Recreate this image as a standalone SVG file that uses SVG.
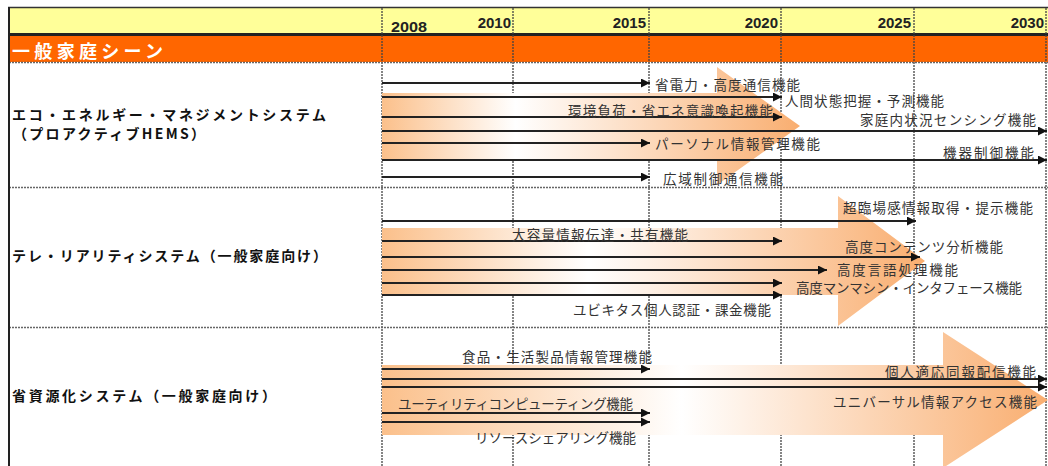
<svg xmlns="http://www.w3.org/2000/svg" width="1048" height="466" viewBox="0 0 1048 466">
<style>
.grid{stroke:#444;stroke-width:1.3;stroke-dasharray:2 1;fill:none}
.hsep{stroke:#666;stroke-width:1.3;stroke-dasharray:2 1;fill:none}
.yr{font-family:"Liberation Sans",Arial,sans-serif;font-weight:bold;font-size:15px;fill:#222}
.lbl{font-family:"Noto Sans CJK JP","Noto Sans",sans-serif;font-size:13.5px;fill:#333}
.sys{font-family:"Noto Sans CJK JP","Liberation Sans",sans-serif;font-size:14px;font-weight:bold;fill:#111}
.arr{stroke:#222;stroke-width:2;fill:none;marker-end:url(#ah)}
</style>
<defs>
<marker id="ah" viewBox="0 0 10 10" refX="10" refY="5" markerWidth="10" markerHeight="9" markerUnits="userSpaceOnUse" orient="auto">
<path d="M0,0 L10,5 L0,10 z" fill="#111"/>
</marker>
<linearGradient id="g1" gradientUnits="userSpaceOnUse" x1="382" y1="0" x2="800" y2="0">
<stop offset="0" stop-color="#FBC08B"/><stop offset="0.32" stop-color="#FFFFFF"/><stop offset="1" stop-color="#F9AE70"/>
</linearGradient>
<linearGradient id="g2" gradientUnits="userSpaceOnUse" x1="382" y1="0" x2="925" y2="0">
<stop offset="0" stop-color="#FBC08B"/><stop offset="0.38" stop-color="#FFFFFF"/><stop offset="1" stop-color="#F9AE70"/>
</linearGradient>
<linearGradient id="g3" gradientUnits="userSpaceOnUse" x1="382" y1="0" x2="1048" y2="0">
<stop offset="0" stop-color="#FBC08B"/><stop offset="0.45" stop-color="#FFFFFF"/><stop offset="1" stop-color="#F9AE70"/>
</linearGradient>
</defs>
<rect x="0" y="0" width="1048" height="466" fill="#FFFFFF"/>
<g id="header">
<rect x="9" y="8" width="1039" height="25" fill="#FFFF99"/>
<rect x="9" y="36" width="1039" height="26" fill="#FF6600"/>
<line x1="9" y1="34.5" x2="1048" y2="34.5" stroke="#222" stroke-width="3"/>
<line x1="8" y1="7.5" x2="1048" y2="7.5" stroke="#333" stroke-width="1.5"/>
<text x="12" y="58" font-family="Noto Sans CJK JP, sans-serif" font-weight="bold" font-size="18" fill="#FFFFFF" textLength="151" lengthAdjust="spacing">一般家庭シーン</text>
<text class="yr" x="391" y="32" textLength="36" lengthAdjust="spacingAndGlyphs">2008</text>
<text class="yr" x="511" y="28" text-anchor="end">2010</text>
<text class="yr" x="646" y="28" text-anchor="end">2015</text>
<text class="yr" x="778" y="28" text-anchor="end">2020</text>
<text class="yr" x="911" y="28" text-anchor="end">2025</text>
<text class="yr" x="1044" y="28" text-anchor="end">2030</text>
</g>
<g id="grid">
<line class="grid" x1="382" y1="8" x2="382" y2="466"/>
<line class="grid" x1="513" y1="8" x2="513" y2="466"/>
<line class="grid" x1="649" y1="8" x2="649" y2="466"/>
<line class="grid" x1="781" y1="8" x2="781" y2="466"/>
<line class="grid" x1="914" y1="8" x2="914" y2="466"/>
<line class="grid" x1="1046" y1="8" x2="1046" y2="466"/>
<line class="hsep" x1="9" y1="62.5" x2="1048" y2="62.5"/>
<line class="hsep" x1="9" y1="187.5" x2="1048" y2="187.5"/>
<line class="hsep" x1="9" y1="327.5" x2="1048" y2="327.5"/>
<line x1="9" y1="7" x2="9" y2="466" stroke="#222" stroke-width="2"/>
</g>
<g id="bands">
<polygon points="382,93 717,93 717,67 800,126 717,185 717,160 382,160" fill="url(#g1)"/>
<polygon points="382,228 838,228 838,196 925,261 838,326 838,295 382,295" fill="url(#g2)"/>
<polygon points="382,365 943,365 943,332 1048,400 943,468 943,435 382,435" fill="url(#g3)"/>
</g>
<g id="eco">
<text class="sys" x="12" y="120" textLength="314" lengthAdjust="spacing">エコ・エネルギー・マネジメントシステム</text>
<text class="sys" x="13" y="139" textLength="192" lengthAdjust="spacing">（プロアクティブHEMS）</text>
</g>
<g id="tele">
<text class="sys" x="12" y="261" textLength="315" lengthAdjust="spacing">テレ・リアリティシステム（一般家庭向け）</text>
</g>
<g id="resource">
<text class="sys" x="12" y="401" textLength="264" lengthAdjust="spacing">省資源化システム（一般家庭向け）</text>
</g>
<g id="connectors">
<line class="arr" x1="382" y1="83" x2="650" y2="83"/>
<line class="arr" x1="382" y1="97" x2="782" y2="97"/>
<line class="arr" x1="382" y1="117" x2="782" y2="117"/>
<line class="arr" x1="382" y1="131" x2="1047" y2="131"/>
<line class="arr" x1="382" y1="143" x2="650" y2="143"/>
<line class="arr" x1="382" y1="160" x2="1047" y2="160"/>
<line class="arr" x1="382" y1="177" x2="650" y2="177"/>
<line class="arr" x1="382" y1="221" x2="916" y2="221"/>
<line class="arr" x1="382" y1="241" x2="782" y2="241"/>
<line class="arr" x1="382" y1="257" x2="920" y2="257"/>
<line class="arr" x1="382" y1="270" x2="827" y2="270"/>
<line class="arr" x1="382" y1="283" x2="782" y2="283"/>
<line class="arr" x1="382" y1="295" x2="782" y2="295"/>
<line class="arr" x1="382" y1="369" x2="650" y2="369"/>
<line class="arr" x1="382" y1="379" x2="1047" y2="379"/>
<line class="arr" x1="382" y1="387" x2="1047" y2="387"/>
<line class="arr" x1="382" y1="413" x2="650" y2="413"/>
<line class="arr" x1="382" y1="422" x2="650" y2="422"/>
</g>
<g id="labels">
<text class="lbl" x="655" y="90" textLength="145" lengthAdjust="spacing">省電力・高度通信機能</text>
<text class="lbl" x="785" y="106" textLength="159" lengthAdjust="spacing">人間状態把握・予測機能</text>
<text class="lbl" x="568" y="116" textLength="205" lengthAdjust="spacing">環境負荷・省エネ意識喚起機能</text>
<text class="lbl" x="860" y="125" textLength="176" lengthAdjust="spacing">家庭内状況センシング機能</text>
<text class="lbl" x="655" y="149" textLength="165" lengthAdjust="spacing">パーソナル情報管理機能</text>
<text class="lbl" x="943" y="158" textLength="91" lengthAdjust="spacing">機器制御機能</text>
<text class="lbl" x="663" y="184" textLength="120" lengthAdjust="spacing">広域制御通信機能</text>
<text class="lbl" x="843" y="213" textLength="190" lengthAdjust="spacing">超臨場感情報取得・提示機能</text>
<text class="lbl" x="512" y="240" textLength="176" lengthAdjust="spacing">大容量情報伝達・共有機能</text>
<text class="lbl" x="845" y="252" textLength="158" lengthAdjust="spacing">高度コンテンツ分析機能</text>
<text class="lbl" x="837" y="275" textLength="121" lengthAdjust="spacing">高度言語処理機能</text>
<text class="lbl" x="796" y="293" textLength="226" lengthAdjust="spacing">高度マンマシン・インタフェース機能</text>
<text class="lbl" x="573" y="315" textLength="198" lengthAdjust="spacing">ユビキタス個人認証・課金機能</text>
<text class="lbl" x="462" y="362" textLength="190" lengthAdjust="spacing">食品・生活製品情報管理機能</text>
<text class="lbl" x="885" y="377" textLength="151" lengthAdjust="spacing">個人適応同報配信機能</text>
<text class="lbl" x="833" y="407" textLength="204" lengthAdjust="spacing">ユニバーサル情報アクセス機能</text>
<text class="lbl" x="398" y="409" textLength="235" lengthAdjust="spacing">ユーティリティコンピューティング機能</text>
<text class="lbl" x="475" y="443" textLength="161" lengthAdjust="spacing">リソースシェアリング機能</text>
</g>
</svg>
